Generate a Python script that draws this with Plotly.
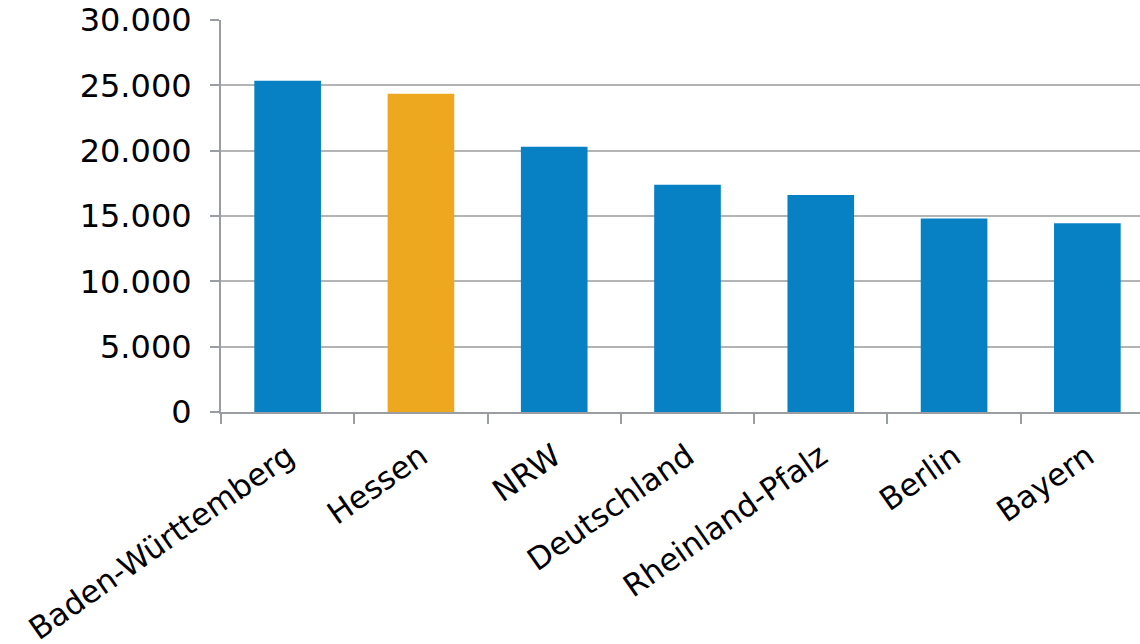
import plotly.graph_objects as go

# Regions and their values
regions = ["Baden-Württemberg", "Hessen", "NRW", "Deutschland",
           "Rheinland-Pfalz", "Berlin", "Bayern"]
values = [25350, 24350, 20300, 17400, 16600, 14800, 14450]
highlight = "Hessen"

BLUE = "#0781C3"
ORANGE = "#EDA820"
colors = [ORANGE if r == highlight else BLUE for r in regions]

y_ticks = [0, 5000, 10000, 15000, 20000, 25000, 30000]

fig = go.Figure(go.Bar(
    x=regions,
    y=values,
    marker=dict(color=colors, line=dict(width=0)),
    width=0.5,
))

W, H = 1140, 644
fig.update_layout(
    width=W, height=H,
    margin=dict(l=221, r=0, t=20, b=232),
    paper_bgcolor="white",
    plot_bgcolor="white",
    separators=",.",
    showlegend=False,
    font=dict(family="DejaVu Sans, Verdana, sans-serif", color="#000000", size=32),
    bargap=0.5,
)

fig.update_xaxes(
    type="category",
    range=[-0.5, 6.395],
    tickangle=-35,
    tickson="boundaries",
    ticks="outside",
    ticklen=10,
    tickwidth=2,
    tickcolor="#9a9da2",
    showline=True,
    linecolor="#9a9da2",
    linewidth=2,
    showgrid=False,
    tickfont=dict(size=31),
    ticklabelstandoff=12,
    automargin=False,
)

fig.update_yaxes(
    range=[0, 30000],
    tickvals=y_ticks,
    tickformat=",d",
    ticks="outside",
    ticklen=9,
    tickwidth=2,
    tickcolor="#9a9da2",
    showline=True,
    linecolor="#9a9da2",
    linewidth=2,
    showgrid=True,
    gridcolor="#b3b4b6",
    gridwidth=2,
    zeroline=False,
    tickfont=dict(size=32),
    ticklabelstandoff=12,
    automargin=False,
)

fig.write_html("out.html")
